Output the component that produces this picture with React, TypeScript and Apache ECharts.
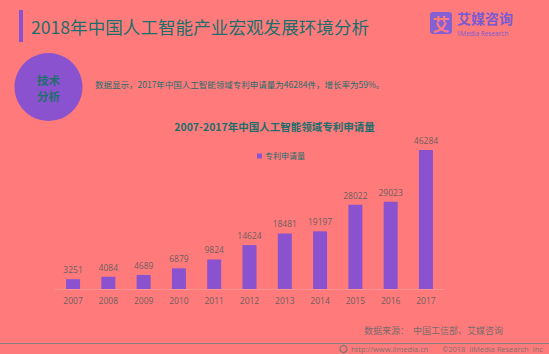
import React, { useEffect, useRef } from "react";
import * as echarts from "echarts";

const years = ["2007", "2008", "2009", "2010", "2011", "2012", "2013", "2014", "2015", "2016", "2017"];
const patents = [3251, 4084, 4689, 6879, 9824, 14624, 18481, 19197, 28022, 29023, 46284];
const seriesName = "专利申请量";
const pageTitle = "2018年中国人工智能产业宏观发展环境分析";
const chartTitle = "2007-2017年中国人工智能领域专利申请量";
const summary = "数据显示，2017年中国人工智能领域专利申请量为46284件，增长率为59%。";
const sourceText = "数据来源：  中国工信部、艾媒咨询";

const BG = "#FF7B7B";
const TEAL = "#1E6E6C";
const PURPLE = "#8A52CF";
const GRAY = "#6E5E5E";

export default function App() {
  const ref = useRef<HTMLDivElement>(null);
  useEffect(() => {
    if (!ref.current) return;
    const chart = echarts.init(ref.current, null, { renderer: "svg" });
    chart.setOption({
      animation: false,
      backgroundColor: BG,
      title: {
        text: chartTitle,
        left: "center",
        top: 116,
        textStyle: { color: TEAL, fontSize: 10.5, fontWeight: "bold", fontFamily: "Noto Sans CJK SC" },
      },
      legend: {
        data: [seriesName],
        left: 252,
        top: 147,
        itemWidth: 5,
        itemHeight: 5,
        itemGap: 4,
        icon: "rect",
        textStyle: { color: TEAL, fontSize: 8, fontFamily: "Noto Sans CJK SC", padding: [0, 0, 0, -2] },
      },
      grid: { left: 55.4, right: 549 - 443.6, top: 138.8, bottom: 354 - 289 },
      xAxis: {
        type: "category",
        data: years,
        axisLine: { show: true, lineStyle: { color: "rgba(255,255,255,0.18)" } },
        axisTick: { show: false },
        axisLabel: { color: GRAY, fontSize: 8.5, margin: 7, fontFamily: "Open Sans" },
      },
      yAxis: {
        type: "value",
        min: 0,
        max: 50000,
        show: false,
        splitLine: { show: false },
      },
      series: [
        {
          name: seriesName,
          type: "bar",
          data: patents,
          barWidth: 14,
          itemStyle: { color: PURPLE },
          label: {
            show: true,
            position: "top",
            distance: 5,
            color: GRAY,
            fontSize: 8.5,
            fontFamily: "Open Sans",
          },
        },
      ],
      graphic: [
        { type: "rect", shape: { x: 19, y: 10, width: 4, height: 32 }, style: { fill: PURPLE } },
        {
          type: "text",
          x: 31,
          y: 26,
          style: {
            text: pageTitle,
            fill: TEAL,
            fontSize: 17.6,
            fontFamily: "Noto Sans CJK SC",
            verticalAlign: "middle",
          },
        },
        // logo
        { type: "rect", shape: { x: 430, y: 12, width: 22, height: 22, r: 3 }, style: { fill: "#8660D2" } },
        {
          type: "text",
          x: 441,
          y: 23,
          style: {
            text: "艾",
            fill: "#FF7B7B",
            fontSize: 17,
            fontWeight: "bold",
            fontFamily: "Noto Sans CJK SC",
            align: "center",
            verticalAlign: "middle",
          },
        },
        {
          type: "text",
          x: 457,
          y: 18,
          style: {
            text: "艾媒咨询",
            fill: "#7A5AD0",
            fontSize: 14,
            fontWeight: "bold",
            fontFamily: "Noto Sans CJK SC",
            verticalAlign: "middle",
          },
        },
        {
          type: "text",
          x: 457,
          y: 33,
          style: {
            text: "iiMedia Research",
            fill: "#7A5AD0",
            fontSize: 6.5,
            fontFamily: "Open Sans",
            verticalAlign: "middle",
          },
        },
        // circle
        { type: "circle", shape: { cx: 48.5, cy: 87, r: 34 }, style: { fill: PURPLE } },
        {
          type: "text",
          x: 48.5,
          y: 79.5,
          style: {
            text: "技术",
            fill: TEAL,
            fontSize: 11.5,
            fontWeight: "bold",
            fontFamily: "Noto Sans CJK SC",
            align: "center",
            verticalAlign: "middle",
          },
        },
        {
          type: "text",
          x: 48.5,
          y: 95.5,
          style: {
            text: "分析",
            fill: TEAL,
            fontSize: 11.5,
            fontWeight: "bold",
            fontFamily: "Noto Sans CJK SC",
            align: "center",
            verticalAlign: "middle",
          },
        },
        {
          type: "text",
          x: 95,
          y: 84,
          style: {
            text: summary,
            fill: TEAL,
            fontSize: 8.5,
            fontFamily: "Noto Sans CJK SC",
            verticalAlign: "middle",
          },
        },
        {
          type: "text",
          x: 364,
          y: 330,
          style: {
            text: sourceText,
            fill: "#7A6A6A",
            fontSize: 9,
            fontFamily: "Noto Sans CJK SC",
            verticalAlign: "middle",
          },
        },
        { type: "line", shape: { x1: 0, y1: 343.5, x2: 549, y2: 343.5 }, style: { stroke: "#8A7E7E", lineWidth: 1 } },
        { type: "circle", shape: { cx: 343.5, cy: 349, r: 3.5 }, style: { fill: "none", stroke: "#7E7272", lineWidth: 1.2 } },
        {
          type: "text",
          x: 351,
          y: 349,
          style: {
            text: "http://www.iimedia.cn",
            fill: "#7E7272",
            fontSize: 7.5,
            fontFamily: "Open Sans",
            verticalAlign: "middle",
          },
        },
        {
          type: "text",
          x: 442,
          y: 349,
          style: {
            text: "©2018  iiMedia Research  Inc",
            fill: "#7E7272",
            fontSize: 7.5,
            fontFamily: "Open Sans",
            verticalAlign: "middle",
          },
        },
      ],
    });
    return () => chart.dispose();
  }, []);
  return <div ref={ref} style={{ width: 549, height: 354, position: "fixed", left: 0, top: 0 }} />;
}
